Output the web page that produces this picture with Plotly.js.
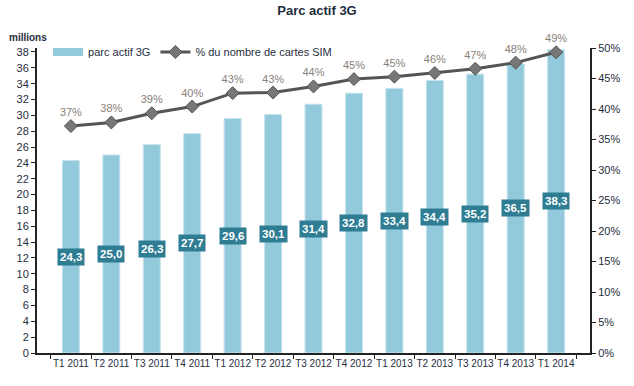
<!DOCTYPE html>
<html>
<head>
<meta charset="utf-8">
<script src="https://cdn.plot.ly/plotly-3.0.1.min.js"></script>
<style>
html,body{margin:0;padding:0;background:#fff;}
#chart{width:634px;height:386px;}
</style>
</head>
<body>
<div id="chart"></div>
<script>
const categories = ["T1 2011","T2 2011","T3 2011","T4 2011","T1 2012","T2 2012","T3 2012","T4 2012","T1 2013","T2 2013","T3 2013","T4 2013","T1 2014"];
const parcActif = [24.3,25.0,26.3,27.7,29.6,30.1,31.4,32.8,33.4,34.4,35.2,36.5,38.3];
const pctSim = [37.2,37.8,39.3,40.4,42.6,42.7,43.7,44.9,45.3,45.9,46.6,47.6,49.3];
const leftTicks = [0,2,4,6,8,10,12,14,16,18,20,22,24,26,28,30,32,34,36,38];
const rightTicks = [0,5,10,15,20,25,30,35,40,45,50];

const fmt = v => v.toFixed(1).replace('.', ',');
const barColor = '#93cadb';

const bars = {
  type: 'bar', name: 'parc actif 3G', x: categories, y: parcActif,
  marker: {color: barColor, line: {color: '#c4e3ec', width: 1}},
  width: 0.42, hoverinfo: 'none', showlegend: false
};
// legend helper so the swatch is a wide flat band like the reference
const barLegend = {
  type: 'scatter', mode: 'lines', name: 'parc actif 3G', x: [null], y: [null],
  line: {color: barColor, width: 8}, hoverinfo: 'none'
};
const line = {
  type: 'scatter', mode: 'lines+markers+text', name: '% du nombre de cartes SIM',
  x: categories, y: pctSim, yaxis: 'y2',
  line: {color: '#555555', width: 3},
  marker: {symbol: 'diamond', size: 10, color: '#777777', line: {color: '#555555', width: 1}},
  text: pctSim.map(v => Math.round(v) + '%'), textposition: 'top center',
  textfont: {family: 'Liberation Sans, Arial', size: 11, color: '#8a8078'},
  cliponaxis: false, hoverinfo: 'none'
};

const annotations = categories.map((c, i) => ({
  x: c, y: parcActif[i] / 2, xref: 'x', yref: 'y',
  text: '<b>' + fmt(parcActif[i]) + '</b>', showarrow: false,
  bgcolor: '#2e7d93', borderpad: 2,
  font: {family: 'Liberation Sans, Arial', size: 11.5, color: '#ffffff'}
}));
annotations.push({
  xref: 'paper', yref: 'paper', x: -0.055, y: 1.01, xanchor: 'left', yanchor: 'bottom',
  text: '<b>millions</b>', showarrow: false,
  font: {family: 'Liberation Sans, Arial', size: 10, color: '#1f2d3d'}
});

const layout = {
  width: 634, height: 386,
  margin: {l: 37, r: 44, t: 48, b: 33},
  paper_bgcolor: '#ffffff', plot_bgcolor: '#ffffff',
  title: {text: '<b>Parc actif 3G</b>', x: 0.5, xanchor: 'center', y: 0.985, yanchor: 'top',
    font: {family: 'Liberation Sans, Arial', size: 13, color: '#1f2d3d'}},
  font: {family: 'Liberation Sans, Arial', size: 11, color: '#1f2d3d'},
  showlegend: true,
  legend: {orientation: 'h', x: 0.02, y: 0.987, xanchor: 'left', yanchor: 'middle',
    bgcolor: 'rgba(0,0,0,0)', font: {size: 11, color: '#1f2d3d'}, tracegroupgap: 0},
  xaxis: {type: 'category', showline: true, linecolor: '#222', linewidth: 2,
    ticks: 'outside', tickson: 'boundaries', ticklen: 4, tickcolor: '#222',
    tickangle: 0, tickfont: {size: 10}, showgrid: false, fixedrange: true},
  yaxis: {range: [0, 38.5], tickvals: leftTicks, showline: true, linecolor: '#222', linewidth: 2,
    ticks: 'outside', ticklen: 4, tickcolor: '#222', showgrid: false, zeroline: false,
    tickfont: {size: 11}},
  yaxis2: {overlaying: 'y', side: 'right', range: [0, 50], tickvals: rightTicks,
    ticktext: rightTicks.map(v => v + '%'), showline: true, linecolor: '#222', linewidth: 2,
    ticks: 'outside', ticklen: 4, tickcolor: '#222', showgrid: false, zeroline: false,
    tickfont: {size: 11}},
  annotations: annotations
};

Plotly.newPlot('chart', [bars, barLegend, line], layout, {staticPlot: true, displayModeBar: false});
</script>
</body>
</html>
